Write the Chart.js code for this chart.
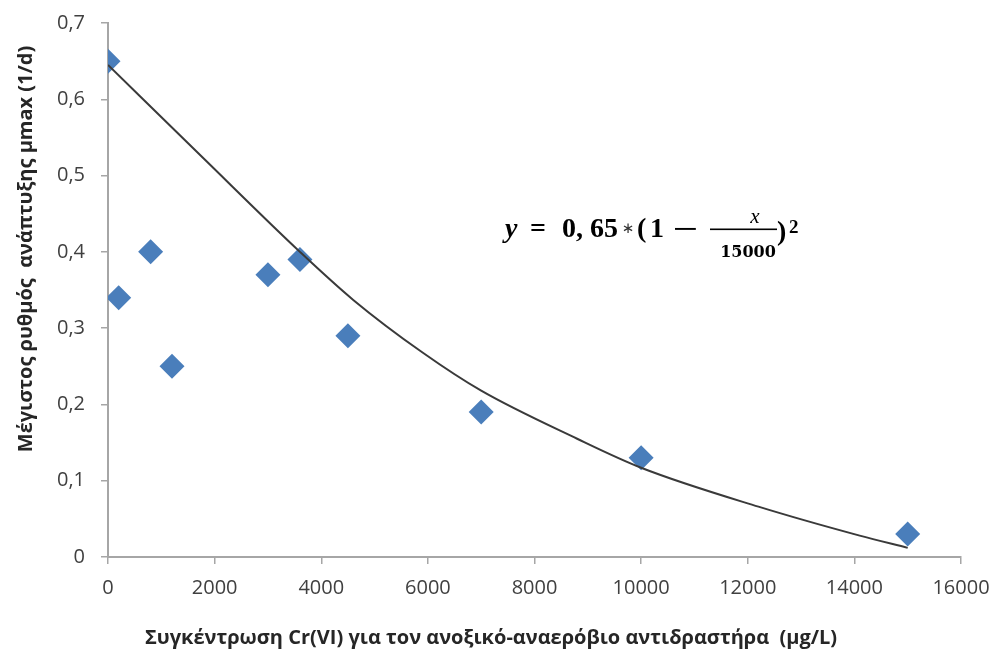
<!DOCTYPE html>
<html>
<head>
<meta charset="utf-8">
<script src="https://cdn.jsdelivr.net/npm/chart.js@4/dist/chart.umd.min.js"></script>
<style>
  html, body { margin: 0; padding: 0; background: #ffffff; }
  #wrap { width: 994px; height: 653px; position: relative; }
</style>
</head>
<body>
<div id="wrap"><canvas id="chart" width="994" height="653"></canvas></div>
<script>
// Measured Cr(VI) concentration (μg/L) and maximum growth rate μmax (1/d)
const concX = [0, 200, 800, 1200, 3000, 3600, 4500, 7000, 10000, 15000];
const muMax = [0.65, 0.34, 0.40, 0.25, 0.37, 0.39, 0.29, 0.19, 0.13, 0.03];

// Fitted inhibition curve
const curveX = [0, 1800, 3600, 4600, 5900, 7000, 8800, 10000, 12200, 14100, 15000];
const curveY = [0.645, 0.522, 0.400, 0.337, 0.268, 0.218, 0.155, 0.117, 0.066, 0.028, 0.012];

// Axis ticks
const xTicks = [0, 2000, 4000, 6000, 8000, 10000, 12000, 14000, 16000];
const yTicks = [0, 0.1, 0.2, 0.3, 0.4, 0.5, 0.6, 0.7];

const xTitle = 'Συγκέντρωση Cr(VI) για τον ανοξικό-αναερόβιο αντιδραστήρα  (μg/L)';
const yTitle = 'Μέγιστος ρυθμός  ανάπτυξης μmax (1/d)';

const axisGrey = '#a6a6a6';
const textGrey = '#404040';
const tickFont = { family: 'Open Sans', size: 20 };

// Axis titles and the model equation, drawn on the canvas
const annotations = {
  id: 'annotations',
  afterDraw(chart) {
    const ctx = chart.ctx;
    ctx.save();
    ctx.fillStyle = '#262626';
    ctx.textBaseline = 'middle';
    ctx.textAlign = 'center';
    ctx.font = 'bold 20px "Open Sans"';
    ctx.fillText(xTitle, 491, 638);

    ctx.save();
    ctx.translate(26, 249);
    ctx.rotate(-Math.PI / 2);
    ctx.fillText(yTitle, 0, 0);
    ctx.restore();

    // y = 0,65 * (1 − x/15000)²
    ctx.fillStyle = '#000000';
    ctx.textAlign = 'left';
    ctx.textBaseline = 'alphabetic';
    const base = 237;
    const big = 'bold 28px "Liberation Serif"';
    const put = (txt, font, x, y) => { ctx.font = font; ctx.fillText(txt, x, y); };
    put('y', 'bold italic 28px "Liberation Serif"', 505, base);
    put('=', big, 530, base);
    put('0,', big, 562, base);
    put('65', big, 590, base);
    ctx.textAlign = 'center';
    ctx.fillStyle = '#333333';
    put('∗', '15px "DejaVu Sans"', 628, base - 4);
    ctx.fillStyle = '#000000';
    ctx.textAlign = 'left';
    put('(', big, 637, base);
    put('1', big, 650, base);
    // minus sign, stretched to the operator width
    ctx.save();
    ctx.translate(673, base + 1);
    ctx.scale(1.6, 1);
    put('−', big, 0, 0);
    ctx.restore();
    // fraction x / 15000
    ctx.fillRect(710, 228.5, 67, 1.6);
    ctx.textAlign = 'center';
    put('x', 'italic 21px "Liberation Serif"', 755, 223);
    put('15000', 'bold 16px "DejaVu Serif"', 748, 257);
    ctx.textAlign = 'left';
    put(')', big, 777, base + 3);
    put('2', 'bold 19px "Liberation Serif"', 789, 233);
    ctx.restore();
  }
};

new Chart(document.getElementById('chart'), {
  type: 'scatter',
  data: {
    datasets: [
      {
        label: 'model',
        data: curveX.map((v, i) => ({ x: v, y: curveY[i] })),
        showLine: true,
        borderColor: '#3a3a3a',
        borderWidth: 2,
        pointRadius: 0,
        cubicInterpolationMode: 'monotone',
        order: 0
      },
      {
        label: 'μmax',
        data: concX.map((v, i) => ({ x: v, y: muMax[i] })),
        pointStyle: 'rectRot',
        pointRadius: 12.5,
        backgroundColor: '#4a7ebb',
        borderColor: '#4a7ebb',
        borderWidth: 0,
        order: 1
      }
    ]
  },
  options: {
    responsive: false,
    animation: false,
    devicePixelRatio: 1,
    layout: { padding: { left: 0, right: 33, top: 23, bottom: 0 } },
    plugins: {
      legend: { display: false },
      tooltip: { enabled: false }
    },
    scales: {
      x: {
        type: 'linear',
        min: 0,
        max: 16000,
        afterBuildTicks(s) { s.ticks = xTicks.map(v => ({ value: v })); },
        afterFit(s) { s.height = 96; s.paddingLeft = 0; s.paddingRight = 0; },
        grid: { drawOnChartArea: false, drawTicks: true, tickLength: 7, color: axisGrey, lineWidth: 1.5 },
        border: { color: axisGrey, width: 2 },
        ticks: {
          color: textGrey,
          font: tickFont,
          padding: 12,
          maxRotation: 0,
          autoSkip: false,
          callback: v => String(v)
        }
      },
      y: {
        type: 'linear',
        min: 0,
        max: 0.7,
        afterBuildTicks(s) { s.ticks = yTicks.map(v => ({ value: v })); },
        afterFit(s) { s.width = 108; s.paddingTop = 0; s.paddingBottom = 0; },
        grid: { drawOnChartArea: false, drawTicks: true, tickLength: 7, color: axisGrey, lineWidth: 1.5 },
        border: { color: axisGrey, width: 2 },
        ticks: {
          color: textGrey,
          font: tickFont,
          padding: 16,
          callback: v => (v === 0 ? '0' : v.toFixed(1).replace('.', ','))
        }
      }
    }
  },
  plugins: [annotations]
});
</script>
</body>
</html>
